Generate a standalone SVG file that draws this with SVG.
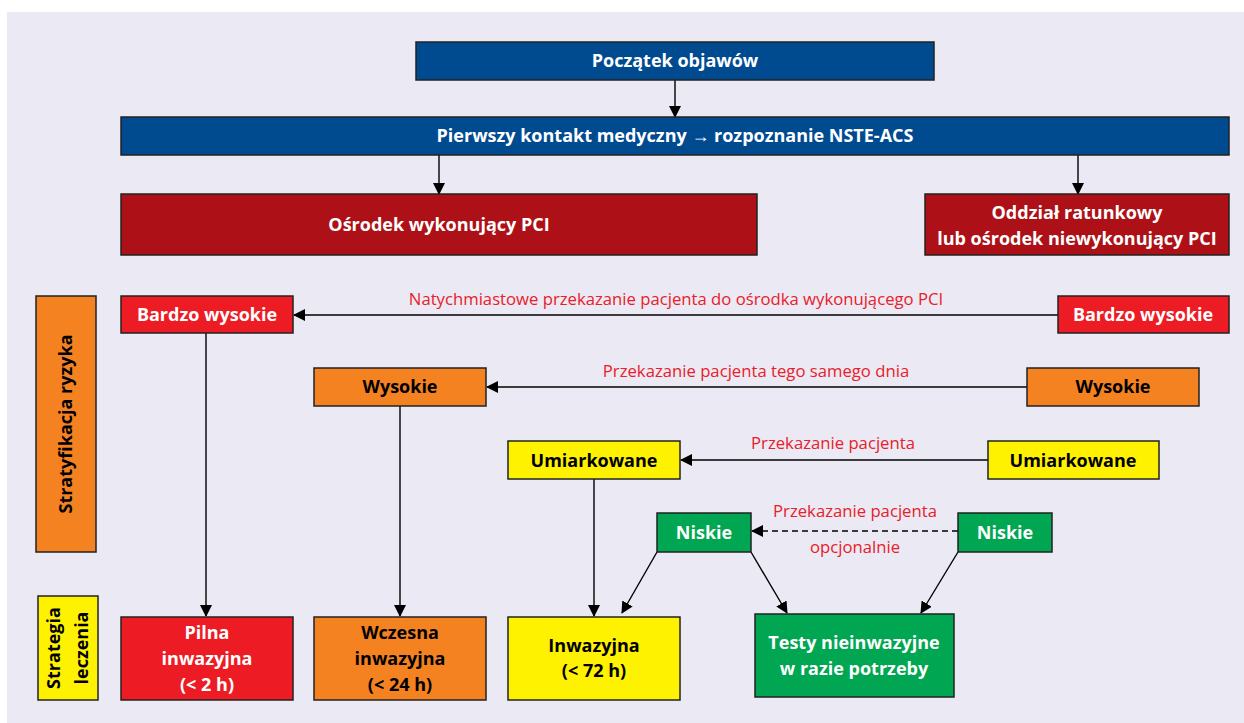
<svg xmlns="http://www.w3.org/2000/svg" width="1244" height="723" viewBox="0 0 1244 723">
<defs>
<style>
.box{stroke:#222;stroke-width:1.5}
.blue{fill:#004a90}.dred{fill:#ad1117}.red{fill:#ed1c24}.orange{fill:#f58220}.yellow{fill:#fff200}.green{fill:#00a651}
.t{font-family:"Open Sans","Noto Sans",sans-serif;font-weight:bold;font-size:18px;text-anchor:middle}
.w{fill:#fff}.k{fill:#000}
.lbl{font-family:"Open Sans","Noto Sans",sans-serif;font-size:16.7px;fill:#e8202a;text-anchor:middle}
.ln{stroke:#000;stroke-width:1.4;fill:none}
</style>
<marker id="ah" markerWidth="12" markerHeight="12" refX="11" refY="6" orient="auto" markerUnits="userSpaceOnUse">
<path d="M0,0 L12,6 L0,12 Z" fill="#000"/>
</marker>
</defs>
<rect x="0" y="0" width="1244" height="723" fill="#fff"/>
<rect x="7" y="12" width="1237" height="711" fill="#ebe9f3"/>

<g id="connectors">
<line class="ln" x1="675" y1="80" x2="675" y2="117" marker-end="url(#ah)"/>
<line class="ln" x1="439" y1="155" x2="439" y2="194" marker-end="url(#ah)"/>
<line class="ln" x1="1078" y1="155" x2="1078" y2="194" marker-end="url(#ah)"/>
<line class="ln" x1="1058" y1="315" x2="294" y2="315" marker-end="url(#ah)"/>
<line class="ln" x1="1027" y1="387" x2="487" y2="387" marker-end="url(#ah)"/>
<line class="ln" x1="988" y1="460" x2="681" y2="460" marker-end="url(#ah)"/>
<line class="ln" x1="958" y1="531" x2="752" y2="531" stroke-dasharray="6,4" marker-end="url(#ah)"/>
<line class="ln" x1="206" y1="333" x2="206" y2="616" marker-end="url(#ah)"/>
<line class="ln" x1="400" y1="406" x2="400" y2="616" marker-end="url(#ah)"/>
<line class="ln" x1="594" y1="479" x2="594" y2="616" marker-end="url(#ah)"/>
<line class="ln" x1="657" y1="552" x2="622" y2="613" marker-end="url(#ah)"/>
<line class="ln" x1="751" y1="552" x2="787" y2="613" marker-end="url(#ah)"/>
<line class="ln" x1="958" y1="552" x2="921" y2="613" marker-end="url(#ah)"/>
<text class="lbl" x="676" y="305">Natychmiastowe przekazanie pacjenta do ośrodka wykonującego PCI</text>
<text class="lbl" x="756" y="377">Przekazanie pacjenta tego samego dnia</text>
<text class="lbl" x="833" y="449">Przekazanie pacjenta</text>
<text class="lbl" x="855" y="517">Przekazanie pacjenta</text>
<text class="lbl" x="855" y="553">opcjonalnie</text>
</g>

<g id="poczatek"><rect class="box blue" x="416" y="42" width="518" height="38"/><text class="t w" x="675" y="67">Początek objawów</text></g>
<g id="pierwszy"><rect class="box blue" x="121" y="117" width="1108" height="38"/><text class="t w" x="675" y="142">Pierwszy kontakt medyczny → rozpoznanie NSTE-ACS</text></g>
<g id="osrodek"><rect class="box dred" x="121" y="194" width="636" height="61"/><text class="t w" x="439" y="231">Ośrodek wykonujący PCI</text></g>
<g id="oddzial"><rect class="box dred" x="925" y="194" width="304" height="61"/><text class="t w" x="1077" y="219">Oddział ratunkowy</text><text class="t w" x="1077" y="245">lub ośrodek niewykonujący PCI</text></g>

<g id="stratyfikacja"><rect class="box orange" x="36" y="296" width="60" height="256"/><text class="t k" transform="translate(72,424) rotate(-90)">Stratyfikacja ryzyka</text></g>
<g id="strategia"><rect class="box yellow" x="38" y="596" width="60" height="104"/><text class="t k" transform="translate(60,648) rotate(-90)">Strategia</text><text class="t k" transform="translate(88,648) rotate(-90)">leczenia</text></g>

<g id="bardzo-l"><rect class="box red" x="121" y="296" width="172" height="37"/><text class="t w" x="207" y="321">Bardzo wysokie</text></g>
<g id="bardzo-r"><rect class="box red" x="1058" y="296" width="171" height="37"/><text class="t w" x="1143" y="321">Bardzo wysokie</text></g>
<g id="wysokie-l"><rect class="box orange" x="314" y="368" width="172" height="38"/><text class="t k" x="400" y="393">Wysokie</text></g>
<g id="wysokie-r"><rect class="box orange" x="1027" y="368" width="172" height="38"/><text class="t k" x="1113" y="393">Wysokie</text></g>
<g id="umiark-l"><rect class="box yellow" x="508" y="441" width="172" height="38"/><text class="t k" x="594" y="467">Umiarkowane</text></g>
<g id="umiark-r"><rect class="box yellow" x="988" y="441" width="171" height="38"/><text class="t k" x="1073" y="467">Umiarkowane</text></g>
<g id="niskie-l"><rect class="box green" x="657" y="513" width="94" height="39"/><text class="t w" x="704" y="539">Niskie</text></g>
<g id="niskie-r"><rect class="box green" x="958" y="513" width="94" height="39"/><text class="t w" x="1005" y="539">Niskie</text></g>

<g id="pilna"><rect class="box red" x="121" y="617" width="172" height="83"/><text class="t w" x="207" y="639">Pilna</text><text class="t w" x="207" y="665">inwazyjna</text><text class="t w" x="207" y="691">(&lt; 2 h)</text></g>
<g id="wczesna"><rect class="box orange" x="314" y="617" width="172" height="83"/><text class="t k" x="400" y="639">Wczesna</text><text class="t k" x="400" y="665">inwazyjna</text><text class="t k" x="400" y="691">(&lt; 24 h)</text></g>
<g id="inwazyjna"><rect class="box yellow" x="508" y="617" width="172" height="83"/><text class="t k" x="594" y="652">Inwazyjna</text><text class="t k" x="594" y="677">(&lt; 72 h)</text></g>
<g id="testy"><rect class="box green" x="755" y="614" width="199" height="83"/><text class="t w" x="854" y="649">Testy nieinwazyjne</text><text class="t w" x="854" y="675">w razie potrzeby</text></g>
</svg>
